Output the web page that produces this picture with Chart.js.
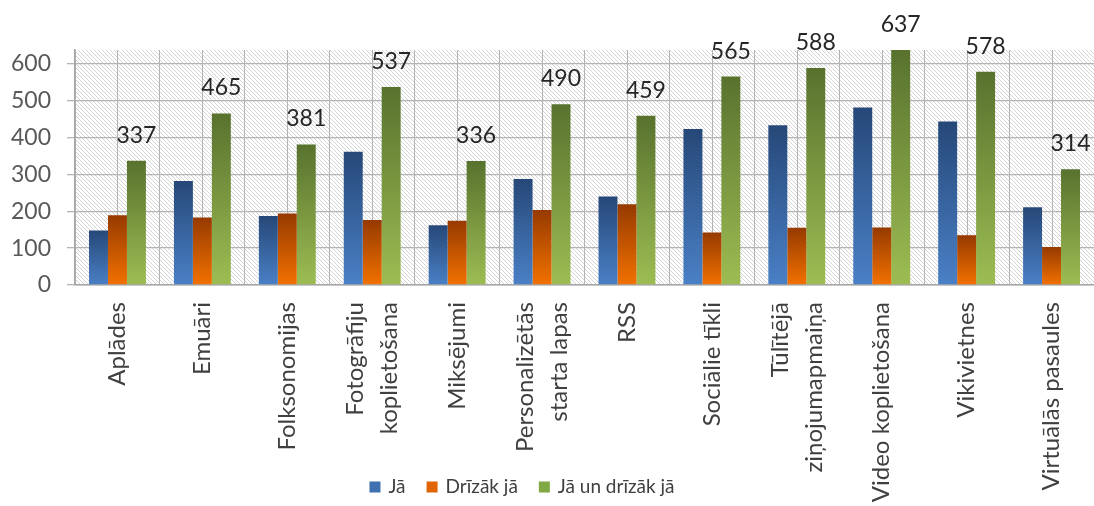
<!DOCTYPE html>
<html>
<head>
<meta charset="utf-8">
<script src="https://cdn.jsdelivr.net/npm/chart.js@4.4.0/dist/chart.umd.min.js"></script>
<style>
    html, body { margin: 0; padding: 0; background: #fff; overflow: hidden; }
    #wrap { width: 1094px; height: 506px; position: relative; }
</style>
</head>
<body>
<div id="wrap"><canvas id="chart"></canvas></div>
<script>
// categories, as they are written under the axis (some on two lines)
const categories = [
    ['Aplādes'],
    ['Emuāri'],
    ['Folksonomijas'],
    ['Fotogrāfiju', 'koplietošana'],
    ['Miksējumi'],
    ['Personalizētās', 'starta lapas'],
    ['RSS'],
    ['Sociālie tīkli'],
    ['Tūlītējā', 'ziņojumapmaiņa'],
    ['Video koplietošana'],
    ['Vikivietnes'],
    ['Virtuālās pasaules']
];
const seriesNames = ['Jā', 'Drīzāk jā', 'Jā un drīzāk jā'];
const jaValues = [148, 282, 187, 361, 162, 287, 240, 423, 433, 481, 443, 211];
const drizakJaValues = [189, 183, 194, 176, 174, 203, 219, 142, 155, 156, 135, 103];
const kopaValues = [337, 465, 381, 537, 336, 490, 459, 565, 588, 637, 578, 314];
const yMax = 637;
const yStep = 100;

const FONT = 'Lato';
Chart.defaults.font.family = FONT;

// top / bottom colours of each bar gradient, plus legend swatch
const seriesColors = [
    { top: '#264878', bottom: '#4a80c6', swatch: '#3f70b0' },
    { top: '#963a00', bottom: '#f27100', swatch: '#e06400' },
    { top: '#58722e', bottom: '#9dbd53', swatch: '#80a843' }
];

function barGradient(c, colors) {
    const chart = c.chart;
    const yScale = chart.scales.y;
    if (!yScale || c.raw === undefined) return colors.bottom;
    const top = yScale.getPixelForValue(c.raw);
    const base = yScale.getPixelForValue(0);
    if (!isFinite(top) || !isFinite(base) || top === base) return colors.bottom;
    const g = chart.ctx.createLinearGradient(0, top, 0, base);
    g.addColorStop(0, colors.top);
    g.addColorStop(1, colors.bottom);
    return g;
}

// diagonal hatch for the plot area
function makeHatch() {
    const p = document.createElement('canvas');
    p.width = 4;
    p.height = 4;
    const pc = p.getContext('2d');
    pc.strokeStyle = '#d4d4d4';
    pc.lineWidth = 1;
    pc.beginPath();
    pc.moveTo(-1, -1); pc.lineTo(5, 5);
    pc.moveTo(-1, 3); pc.lineTo(1, 5);
    pc.moveTo(3, -1); pc.lineTo(5, 1);
    pc.stroke();
    return p;
}

const backgroundPlugin = {
    id: 'hatchBackground',
    beforeDraw(chart) {
        const { ctx, chartArea } = chart;
        ctx.save();
        ctx.fillStyle = ctx.createPattern(makeHatch(), 'repeat');
        ctx.fillRect(chartArea.left, chartArea.top, chartArea.right - chartArea.left, chartArea.bottom - chartArea.top);
        ctx.restore();
    },
    beforeDatasetsDraw(chart) {
        // extra vertical grid line through the middle of each category
        const { ctx, chartArea } = chart;
        const xScale = chart.scales.x;
        ctx.save();
        ctx.strokeStyle = '#b4b4b4';
        ctx.lineWidth = 1;
        ctx.beginPath();
        for (let i = 0; i < categories.length; i++) {
            const x = Math.round(xScale.getPixelForTick(i)) + 0.5;
            ctx.moveTo(x, chartArea.top);
            ctx.lineTo(x, chartArea.bottom);
        }
        ctx.stroke();
        ctx.restore();
    }
};

const labelsPlugin = {
    id: 'textLabels',
    afterDatasetsDraw(chart) {
        // values above the green bars
        const { ctx } = chart;
        const meta = chart.getDatasetMeta(2);
        ctx.save();
        ctx.font = '23px ' + FONT;
        ctx.fillStyle = '#262626';
        ctx.textAlign = 'center';
        ctx.textBaseline = 'alphabetic';
        meta.data.forEach((bar, i) => {
            ctx.fillText(String(kopaValues[i]), bar.x, bar.y - 18);
        });
        ctx.restore();
    },
    afterDraw(chart) {
        const { ctx, chartArea } = chart;
        const xScale = chart.scales.x;

        // rotated category labels, lines centred on the tick
        const lineH = 34;
        ctx.save();
        ctx.font = '24px ' + FONT;
        ctx.fillStyle = '#404040';
        ctx.textAlign = 'right';
        ctx.textBaseline = 'middle';
        categories.forEach((lines, i) => {
            const x = xScale.getPixelForTick(i);
            lines.forEach((line, k) => {
                const cx = x + (k - (lines.length - 1) / 2) * lineH;
                ctx.save();
                ctx.translate(cx, chartArea.bottom + 17);
                ctx.rotate(-Math.PI / 2);
                ctx.fillText(line, 0, 0);
                ctx.restore();
            });
        });
        ctx.restore();

        // legend
        ctx.save();
        ctx.font = '19px ' + FONT;
        ctx.textBaseline = 'middle';
        ctx.textAlign = 'left';
        const box = 11, gapText = 8, gapItem = 21, legendY = 487;
        const widths = seriesNames.map(n => box + gapText + ctx.measureText(n).width);
        const total = widths.reduce((a, b) => a + b, 0) + gapItem * (seriesNames.length - 1);
        let lx = 522 - total / 2;
        seriesNames.forEach((name, i) => {
            ctx.fillStyle = seriesColors[i].swatch;
            ctx.fillRect(lx, legendY - box / 2, box, box);
            ctx.fillStyle = '#404040';
            ctx.fillText(name, lx + box + gapText, legendY);
            lx += widths[i] + gapItem;
        });
        ctx.restore();
    }
};

const ctx = document.getElementById('chart').getContext('2d');
new Chart(ctx, {
    type: 'bar',
    data: {
        labels: categories.map(l => l.join(' ')),
        datasets: [
            { label: seriesNames[0], data: jaValues, backgroundColor: c => barGradient(c, seriesColors[0]) },
            { label: seriesNames[1], data: drizakJaValues, backgroundColor: c => barGradient(c, seriesColors[1]) },
            { label: seriesNames[2], data: kopaValues, backgroundColor: c => barGradient(c, seriesColors[2]) }
        ]
    },
    options: {
        responsive: true,
        maintainAspectRatio: false,
        animation: false,
        layout: { padding: { top: 50, right: 0, bottom: 0, left: 0 } },
        datasets: {
            bar: { barPercentage: 1, categoryPercentage: 0.67, borderWidth: 0 }
        },
        scales: {
            x: {
                grid: { display: true, offset: true, drawTicks: false, color: '#b4b4b4', lineWidth: 1 },
                border: { display: true, color: '#a6a6a6', width: 1.5 },
                ticks: { display: false },
                afterFit: scale => { scale.height = 221; }
            },
            y: {
                min: 0,
                max: yMax,
                grid: { color: '#b4b4b4', lineWidth: 1.3, tickLength: 8, drawTicks: true },
                border: { display: true, color: '#a6a6a6', width: 1.5 },
                ticks: {
                    stepSize: yStep,
                    includeBounds: false,
                    padding: 16,
                    color: '#595959',
                    font: { size: 23 }
                },
                afterFit: scale => { scale.width = 75; }
            }
        },
        plugins: {
            legend: { display: false },
            tooltip: { enabled: false }
        }
    },
    plugins: [backgroundPlugin, labelsPlugin]
});
</script>
</body>
</html>
